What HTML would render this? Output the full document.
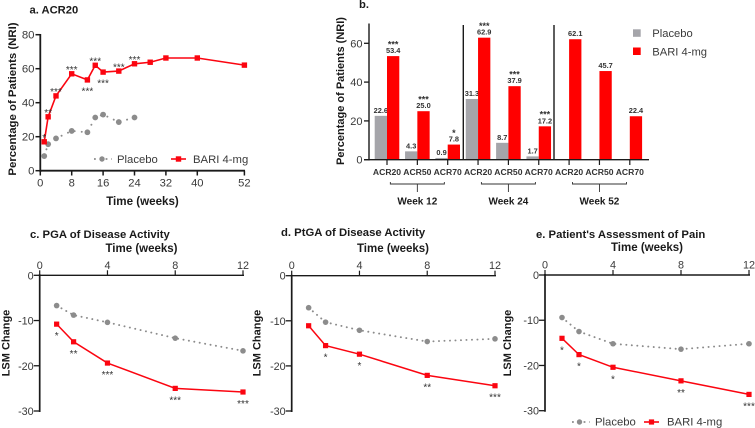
<!DOCTYPE html>
<html lang="en">
<head>
<meta charset="utf-8">
<title>ACR response and LSM change charts</title>
<style>
html,body{margin:0;padding:0;background:#fff;width:755px;height:428px;overflow:hidden}
svg{display:block;font-family:"Liberation Sans",sans-serif}
</style>
</head>
<body>
<svg id="chart" width="755" height="428" viewBox="0 0 755 428" xmlns="http://www.w3.org/2000/svg"></svg>
<script>
// Panel a
const aPlaceboWeeks = [1, 2, 4, 8, 12, 14, 16, 20, 24];
const aPlaceboValues = [8.6, 15.6, 19, 23.4, 22.6, 31.3, 33, 28.6, 31.3];
const aBariWeeks = [1, 2, 4, 8, 12, 14, 16, 20, 24, 28, 32, 40, 52];
const aBariValues = [17, 31.7, 44, 57, 53.4, 62, 58, 58.6, 62.9, 63.8, 66.3, 66.3, 62.1];
const aBariStars = ['*', '**', '***', '***', '***', '***', '***', '***', '***', '', '', '', ''];
const aStarsBelowWeeks = [12, 16];
const aXTicks = [0, 8, 16, 24, 32, 40, 52];
const aYTicks = [0, 20, 40, 60, 80];
// Panel b
const bCategories = ['ACR20', 'ACR50', 'ACR70', 'ACR20', 'ACR50', 'ACR70', 'ACR20', 'ACR50', 'ACR70'];
const bPlacebo = [22.6, 4.3, 0.9, 31.3, 8.7, 1.7, null, null, null];
const bBari = [53.4, 25.0, 7.8, 62.9, 37.9, 17.2, 62.1, 45.7, 22.4];
const bStars = ['***', '***', '*', '***', '***', '***', '', '', ''];
const bGroups = ['Week 12', 'Week 24', 'Week 52'];
const bYTicks = [0, 20, 40, 60];
// Panels c, d, e
const lsmWeeks = [1, 2, 4, 8, 12];
const lsmXTicks = [0, 4, 8, 12];
const lsmYTicks = [0, -10, -20, -30];
const cPlacebo = [-6.7, -8.8, -10.4, -13.9, -16.7];
const cBari = [-10.8, -14.7, -19.4, -25, -25.8];
const cStars = ['*', '**', '***', '***', '***'];
const dPlacebo = [-7.1, -10.3, -12.1, -14.6, -14];
const dBari = [-11.1, -15.5, -17.4, -22.1, -24.4];
const dStars = ['', '*', '*', '**', '***'];
const ePlacebo = [-9.4, -12.5, -15.2, -16.4, -15.2];
const eBari = [-14, -17.6, -20.4, -23.4, -26.4];
const eStars = ['*', '*', '*', '**', '***'];

const svg = document.getElementById('chart');
const NS = 'http://www.w3.org/2000/svg';
const RED = '#fb0510', BARRED = '#ff0000', GREY = '#8c8c8c', BARGREY = '#a5a5aa', INK = '#1a1a1a', TICK = '#3a3a3a';

function el(tag, props, name, parent) {
  const e = document.createElementNS(NS, tag);
  for (const k in props) e.setAttribute(k, props[k]);
  
  
  (parent || svg).appendChild(e);
  return e;
}
function line(x1, y1, x2, y2, w, name, color, parent) {
  return el('line', {x1, y1, x2, y2, stroke: color || INK, 'stroke-width': w}, name, parent);
}
function text(x, y, s, size, weight, anchor, color, name, parent) {
  const t = el('text', {x, y, 'font-size': size, 'font-weight': weight, 'text-anchor': anchor, fill: color}, name, parent);
  t.textContent = s;
  return t;
}
function vtext(x, y, s, size, name, parent) {
  const t = el('text', {x, y, 'font-size': size, 'font-weight': 'bold', 'text-anchor': 'middle', fill: INK,
    transform: 'rotate(-90 ' + x + ' ' + y + ')'}, name, parent);
  t.textContent = s;
  return t;
}
function poly(pts, color, w, dash, name, parent) {
  const p = {points: pts.map(q => q.join(',')).join(' '), fill: 'none', stroke: color, 'stroke-width': w};
  if (dash) { p['stroke-dasharray'] = dash; p['stroke-linecap'] = 'round'; }
  return el('polyline', p, name, parent);
}
function dot(x, y, r, name, parent) { return el('circle', {cx: x, cy: y, r, fill: GREY}, name, parent); }
function square(x, y, s, name, parent) { return el('rect', {x: x - s / 2, y: y - s / 2, width: s, height: s, fill: RED}, name, parent); }

/* ---------- Panel a ---------- */
(function () {
  const g = el('g', {}, 'acr20-line-panel');
  const X = w => 40.3 + w * 3.925;
  const Y = v => 170.7 - v * 1.7;
  text(29.5, 13.5, 'a. ACR20', 11.2, 'bold', 'start', INK, 'panel-a-title', g);
  line(40.3, 34, 40.3, 172, 1.8, 'y-axis', INK, g);
  line(39.5, 170.7, 245, 170.7, 1.8, 'x-axis', INK, g);
  aYTicks.forEach(v => {
    line(35.5, Y(v), 40.3, Y(v), 1.5, 'y-tick', INK, g);
    text(34.5, Y(v) + 4, v, 11.4, 'normal', 'end', TICK, 'y-tick-label', g);
  });
  aXTicks.forEach(v => {
    line(X(v), 170.7, X(v), 175.5, 1.5, 'x-tick', INK, g);
    text(X(v), 186.3, v, 11.2, 'normal', 'middle', TICK, 'x-tick-label', g);
  });
  vtext(16, 99, 'Percentage of Patients (NRI)', 11.4, 'y-axis-title', g);
  text(142.5, 205, 'Time (weeks)', 11.6, 'bold', 'middle', INK, 'x-axis-title', g);
  poly(aPlaceboWeeks.map((w, i) => [X(w), Y(aPlaceboValues[i])]), GREY, 1.9, '0.1 7', 'placebo-line', g);
  aPlaceboWeeks.forEach((w, i) => dot(X(w), Y(aPlaceboValues[i]), 2.9, 'placebo-point', g));
  poly(aBariWeeks.map((w, i) => [X(w), Y(aBariValues[i])]), RED, 1.6, null, 'bari-line', g);
  aBariWeeks.forEach((w, i) => square(X(w), Y(aBariValues[i]), 5.4, 'bari-point', g));
  aBariWeeks.forEach((w, i) => {
    if (!aBariStars[i]) return;
    const below = aStarsBelowWeeks.includes(w);
    const y = Y(aBariValues[i]) + (below ? 14.5 : -0.7);
    text(X(w), y, aBariStars[i], 10, 'normal', 'middle', '#333', 'significance-stars', g);
  });
  // legend
  line(94, 159, 112, 159, 1.8, 'legend-placebo-line', GREY, g).setAttribute('stroke-dasharray', '1.8 4');
  dot(102, 159, 2.7, 'legend-placebo-marker', g);
  text(117, 163, 'Placebo', 11.3, 'normal', 'start', TICK, 'legend-placebo-label', g);
  line(171, 159, 186, 159, 1.6, 'legend-bari-line', RED, g);
  square(178.5, 159, 5.4, 'legend-bari-marker', g);
  text(193, 163, 'BARI 4-mg', 11.3, 'normal', 'start', TICK, 'legend-bari-label', g);
})();

/* ---------- Panel b ---------- */
(function () {
  const g = el('g', {}, 'acr-bar-panel');
  const X = i => 387 + i * 30.35;
  const Y = v => 159.7 - v * 1.94;
  const BW = 12.3;
  text(359, 8, 'b.', 11.2, 'bold', 'start', INK, 'panel-b-title', g);
  bCategories.forEach((c, i) => {
    if (bPlacebo[i] !== null) {
      el('rect', {x: X(i) - BW, y: Y(bPlacebo[i]), width: BW, height: bPlacebo[i] * 1.94, fill: BARGREY}, 'bar-placebo-' + c.toLowerCase(), g);
      text(X(i) - BW / 2, Y(bPlacebo[i]) - 3, bPlacebo[i].toFixed(1), 7.4, 'bold', 'middle', '#333', 'bar-value-placebo', g);
    }
    el('rect', {x: X(i), y: Y(bBari[i]), width: BW, height: bBari[i] * 1.94, fill: BARRED}, 'bar-bari-' + c.toLowerCase(), g);
    text(X(i) + BW / 2, Y(bBari[i]) - 3, bBari[i].toFixed(1), 7.4, 'bold', 'middle', '#333', 'bar-value-bari', g);
    if (bStars[i]) text(X(i) + BW / 2, Y(bBari[i]) - 8.6, bStars[i], 9, 'bold', 'middle', '#333', 'significance-stars', g);
    line(X(i), 159.7, X(i), 165, 1.2, 'x-tick', INK, g);
    text(X(i), 175, c, 8.6, 'bold', 'middle', '#333', 'x-tick-label', g);
  });
  line(369, 23.5, 369, 160.5, 1.4, 'y-axis', INK, g);
  line(364, 159.7, 649, 159.7, 1.4, 'x-axis', INK, g);
  [0, 1].forEach(k => line(463.3 + k * 90.7, 25, 463.3 + k * 90.7, 159.7, 1.4, 'week-divider', INK, g));
  bYTicks.forEach(v => {
    line(364, Y(v), 369, Y(v), 1.3, 'y-tick', INK, g);
    text(362.5, Y(v) + 4, v, 11, 'normal', 'end', TICK, 'y-tick-label', g);
  });
  vtext(344, 91, 'Percentage of Patients (NRI)', 11, 'y-axis-title', g);
  bGroups.forEach((w, k) => {
    const cx = X(1 + k * 3);
    el('path', {d: 'M' + (cx - 27) + ' 182 v2 H' + (cx + 27) + ' v-2 M' + cx + ' 184 v8', fill: 'none', stroke: '#333', 'stroke-width': 0.9}, 'week-bracket', g);
    text(cx, 204.5, w, 10, 'bold', 'middle', INK, 'week-group-label', g);
  });
  el('rect', {x: 633, y: 29.3, width: 7.7, height: 7.5, fill: BARGREY}, 'legend-placebo-swatch', g);
  text(652.3, 37, 'Placebo', 11.2, 'normal', 'start', TICK, 'legend-placebo-label', g);
  el('rect', {x: 633, y: 47.5, width: 7.7, height: 7.5, fill: BARRED}, 'legend-bari-swatch', g);
  text(652.3, 55.5, 'BARI 4-mg', 11.2, 'normal', 'start', TICK, 'legend-bari-label', g);
})();

/* ---------- Panels c, d, e ---------- */
function lsmPanel(name, x0, x12, y0, y30, title, titleX, titleY, timeX, timeY, labelX, placebo, bari, stars) {
  const g = el('g', {}, name);
  const X = w => x0 + w * (x12 - x0) / 12;
  const Y = v => y0 + (-v) * (y30 - y0) / 30;
  text(titleX, titleY, title, 11.3, 'bold', 'start', INK, 'panel-title', g);
  text(timeX, timeY, 'Time (weeks)', 11.5, 'bold', 'middle', INK, 'x-axis-title', g);
  line(x0, y0 - 1, x0, y30 + 1, 1.7, 'y-axis', INK, g);
  line(x0 - 1, y0, x12 + 1, y0, 1.4, 'x-axis', INK, g);
  lsmYTicks.forEach(v => {
    line(x0 - 6, Y(v), x0, Y(v), 1.3, 'y-tick', INK, g);
    text(x0 - 6, Y(v) + 4, v, 10.8, 'normal', 'end', TICK, 'y-tick-label', g);
  });
  lsmXTicks.forEach(v => {
    line(X(v), y0 - 5, X(v), y0, 1.2, 'x-tick', INK, g);
    text(X(v), y0 - 6.5, v, 10.8, 'normal', 'middle', TICK, 'x-tick-label', g);
  });
  vtext(labelX, 343, 'LSM Change', 11, 'y-axis-title', g);
  poly(lsmWeeks.map((w, i) => [X(w), Y(placebo[i])]), GREY, 1.9, '0.1 5.4', 'placebo-line', g);
  lsmWeeks.forEach((w, i) => dot(X(w), Y(placebo[i]), 2.8, 'placebo-point', g));
  poly(lsmWeeks.map((w, i) => [X(w), Y(bari[i])]), RED, 1.5, null, 'bari-line', g);
  lsmWeeks.forEach((w, i) => square(X(w), Y(bari[i]), 5.2, 'bari-point', g));
  lsmWeeks.forEach((w, i) => {
    if (stars[i]) text(X(w), Y(bari[i]) + 15, stars[i], 10, 'normal', 'middle', '#333', 'significance-stars', g);
  });
  return g;
}
lsmPanel('pga-panel', 39.7, 243, 275.3, 411, 'c. PGA of Disease Activity', 30, 238, 141.5, 252, 9.5, cPlacebo, cBari, cStars);
lsmPanel('ptga-panel', 291.7, 495, 275.7, 411, 'd. PtGA of Disease Activity', 281, 236, 393, 252, 260.5, dPlacebo, dBari, dStars);
const ePanel = lsmPanel('pain-panel', 545, 749, 275, 410.7, "e. Patient's Assessment of Pain", 536, 238, 647, 251, 511, ePlacebo, eBari, eStars);

line(572, 422, 590, 422, 1.8, 'legend-placebo-line', GREY, ePanel).setAttribute('stroke-dasharray', '1.8 4');
dot(579.5, 422, 2.7, 'legend-placebo-marker', ePanel);
text(595, 425.7, 'Placebo', 11.3, 'normal', 'start', TICK, 'legend-placebo-label', ePanel);
line(644, 422, 659, 422, 1.6, 'legend-bari-line', RED, ePanel);
square(651.5, 422, 5.2, 'legend-bari-marker', ePanel);
text(667, 425.7, 'BARI 4-mg', 11.3, 'normal', 'start', TICK, 'legend-bari-label', ePanel);
</script>
</body>
</html>
